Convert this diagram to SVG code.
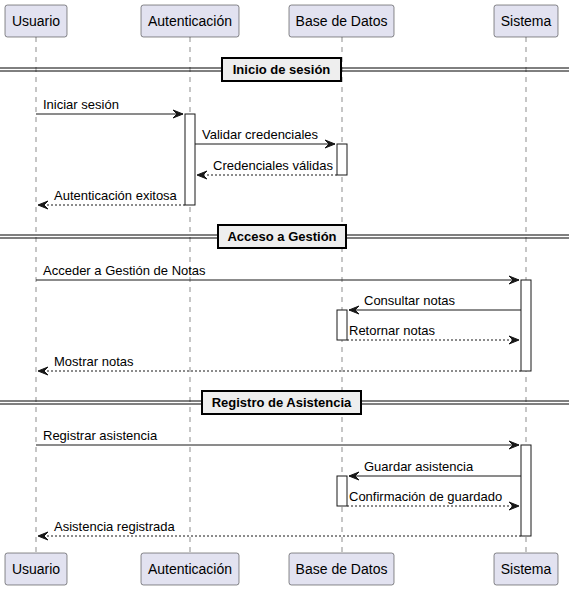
<svg xmlns="http://www.w3.org/2000/svg" width="569" height="590" viewBox="0 0 569 590">
  <defs>
    <style>
      .part { fill: #E2E2F0; stroke: #181818; stroke-width: 0.5; }
      .ptext { font-family: "Liberation Sans", Arial, sans-serif; font-size: 14px; fill: #000; text-anchor: middle; }
      .life { stroke: #181818; stroke-width: 0.5; stroke-dasharray: 5,5; fill: none; }
      .act { fill: #FFFFFF; stroke: #181818; stroke-width: 1; }
      .msg { stroke: #181818; stroke-width: 1; fill: none; }
      .ret { stroke: #181818; stroke-width: 1; stroke-dasharray: 2,2; fill: none; }
      .head { fill: #181818; stroke: #181818; stroke-width: 1; }
      .mtext { font-family: "Liberation Sans", Arial, sans-serif; font-size: 13px; fill: #000; }
      .divline { stroke: #000; stroke-width: 1; }
      .divbox { fill: #EEEEEE; stroke: #000; stroke-width: 2; }
      .divtext { font-family: "Liberation Sans", Arial, sans-serif; font-size: 13px; font-weight: bold; fill: #000; text-anchor: middle; }
    </style>
  </defs>

  <!-- lifelines -->
  <g id="lifelines">
    <line class="life" x1="36" y1="37" x2="36" y2="553"/>
    <line class="life" x1="190" y1="37" x2="190" y2="553"/>
    <line class="life" x1="342" y1="37" x2="342" y2="553"/>
    <line class="life" x1="526" y1="37" x2="526" y2="553"/>
  </g>

  <!-- participants -->
  <g id="usuario">
    <rect class="part" x="5" y="5" width="62" height="32" rx="2.5"/>
    <text class="ptext" x="36" y="26">Usuario</text>
    <rect class="part" x="5" y="553" width="62" height="32" rx="2.5"/>
    <text class="ptext" x="36" y="574">Usuario</text>
  </g>
  <g id="autenticacion">
    <rect class="part" x="141" y="5" width="98" height="32" rx="2.5"/>
    <text class="ptext" x="190" y="26">Autenticación</text>
    <rect class="part" x="141" y="553" width="98" height="32" rx="2.5"/>
    <text class="ptext" x="190" y="574">Autenticación</text>
  </g>
  <g id="basededatos">
    <rect class="part" x="289" y="5" width="105" height="32" rx="2.5"/>
    <text class="ptext" x="341.5" y="26">Base de Datos</text>
    <rect class="part" x="289" y="553" width="105" height="32" rx="2.5"/>
    <text class="ptext" x="341.5" y="574">Base de Datos</text>
  </g>
  <g id="sistema">
    <rect class="part" x="494" y="5" width="64" height="32" rx="2.5"/>
    <text class="ptext" x="526" y="26">Sistema</text>
    <rect class="part" x="494" y="553" width="64" height="32" rx="2.5"/>
    <text class="ptext" x="526" y="574">Sistema</text>
  </g>

  <!-- activation bars -->
  <g id="activations">
    <rect class="act" x="185" y="114" width="10" height="91"/>
    <rect class="act" x="337" y="144" width="10" height="31"/>
    <rect class="act" x="521" y="280" width="10" height="91"/>
    <rect class="act" x="337" y="310" width="10" height="30"/>
    <rect class="act" x="521" y="445" width="10" height="91"/>
    <rect class="act" x="337" y="476" width="10" height="30"/>
  </g>

  <!-- section dividers -->
  <g id="div-inicio">
    <line class="divline" x1="0" y1="68" x2="569" y2="68"/>
    <line class="divline" x1="0" y1="71" x2="569" y2="71"/>
    <rect class="divbox" x="222" y="58" width="119" height="23"/>
    <text class="divtext" x="281.5" y="74">Inicio de sesión</text>
  </g>
  <g id="div-acceso">
    <line class="divline" x1="0" y1="235" x2="569" y2="235"/>
    <line class="divline" x1="0" y1="238" x2="569" y2="238"/>
    <rect class="divbox" x="218" y="225" width="128" height="23"/>
    <text class="divtext" x="282" y="241">Acceso a Gestión</text>
  </g>
  <g id="div-registro">
    <line class="divline" x1="0" y1="401" x2="569" y2="401"/>
    <line class="divline" x1="0" y1="404" x2="569" y2="404"/>
    <rect class="divbox" x="202" y="391" width="159" height="23"/>
    <text class="divtext" x="281.5" y="407">Registro de Asistencia</text>
  </g>

  <!-- messages -->
  <g id="connectors">
    <!-- Inicio de sesión -->
    <line class="msg" x1="36" y1="114" x2="183" y2="114"/>
    <polygon class="head" points="173,110 183,114 173,118 177,114"/>
    <text class="mtext" x="43" y="109">Iniciar sesión</text>

    <line class="msg" x1="195" y1="144" x2="335" y2="144"/>
    <polygon class="head" points="325,140 335,144 325,148 329,144"/>
    <text class="mtext" x="202" y="139">Validar credenciales</text>

    <line class="ret" x1="337" y1="175" x2="197" y2="175"/>
    <polygon class="head" points="207,171 197,175 207,179 203,175"/>
    <text class="mtext" x="213" y="170">Credenciales válidas</text>

    <line class="ret" x1="185" y1="205" x2="38" y2="205"/>
    <polygon class="head" points="48,201 38,205 48,209 44,205"/>
    <text class="mtext" x="54" y="200">Autenticación exitosa</text>

    <!-- Acceso a Gestión -->
    <line class="msg" x1="36" y1="280" x2="519" y2="280"/>
    <polygon class="head" points="509,276 519,280 509,284 513,280"/>
    <text class="mtext" x="43" y="275">Acceder a Gestión de Notas</text>

    <line class="msg" x1="521" y1="310" x2="349" y2="310"/>
    <polygon class="head" points="359,306 349,310 359,314 355,310"/>
    <text class="mtext" x="364" y="305">Consultar notas</text>

    <line class="ret" x1="347" y1="340" x2="519" y2="340"/>
    <polygon class="head" points="509,336 519,340 509,344 513,340"/>
    <text class="mtext" x="349" y="335">Retornar notas</text>

    <line class="ret" x1="521" y1="371" x2="38" y2="371"/>
    <polygon class="head" points="48,367 38,371 48,375 44,371"/>
    <text class="mtext" x="54" y="366">Mostrar notas</text>

    <!-- Registro de Asistencia -->
    <line class="msg" x1="36" y1="445" x2="519" y2="445"/>
    <polygon class="head" points="509,441 519,445 509,449 513,445"/>
    <text class="mtext" x="43" y="440">Registrar asistencia</text>

    <line class="msg" x1="521" y1="476" x2="349" y2="476"/>
    <polygon class="head" points="359,472 349,476 359,480 355,476"/>
    <text class="mtext" x="364" y="471">Guardar asistencia</text>

    <line class="ret" x1="347" y1="506" x2="519" y2="506"/>
    <polygon class="head" points="509,502 519,506 509,510 513,506"/>
    <text class="mtext" x="349" y="501">Confirmación de guardado</text>

    <line class="ret" x1="521" y1="536" x2="38" y2="536"/>
    <polygon class="head" points="48,532 38,536 48,540 44,536"/>
    <text class="mtext" x="54" y="531">Asistencia registrada</text>
  </g>
</svg>
